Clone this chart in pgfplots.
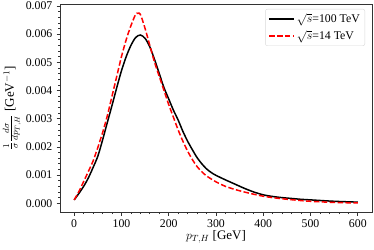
\documentclass[border=0pt]{standalone}
\usepackage{pgfplots}
\pgfplotsset{compat=1.18}
\usepackage{fontspec}
\setmainfont{Liberation Serif}
\begin{document}
\fontsize{11.8bp}{14bp}\selectfont
\begin{tikzpicture}
\begin{axis}[
  scale only axis,
  width=312bp, height=208bp,
  xmin=-30, xmax=630,
  ymin=-0.00031, ymax=0.00707,
  xtick={0,100,200,300,400,500,600},
  ytick={0,0.001,0.002,0.003,0.004,0.005,0.006,0.007},
  minor x tick num=4,
  minor y tick num=4,
  scaled y ticks=false,
  yticklabel style={/pgf/number format/.cd,fixed,fixed zerofill,precision=3},
  /pgf/number format/assume math mode=true,
  tick pos=left,
  tick align=outside,
  major tick length=3.5bp,
  minor tick length=2bp,
  every tick/.style={black!80, line width=0.7bp},
  axis line style={black!80, line width=0.8bp},
  tick label style={font=\fontsize{11.8bp}{14bp}\selectfont},
  label style={font=\fontsize{13bp}{15bp}\selectfont},
  xlabel={$p_{T,H}$ [GeV]},
  ylabel={$\frac{1}{\sigma}\frac{d\sigma}{dp_{T,H}}$ [GeV$^{-1}$]},
  xlabel style={at={(axis description cs:0.5,-0.07)}, anchor=north},
  ylabel style={at={(axis description cs:-0.112,0.5)}, anchor=south},
  legend style={at={(1,1)}, anchor=north east, xshift=-7bp, yshift=-5bp,
    draw=black!15, rounded corners=2pt, fill=white,
    font=\fontsize{11.8bp}{14bp}\selectfont, inner xsep=3bp, inner ysep=2bp,
    row sep=2bp},
  legend cell align=left,
  legend image code/.code={\draw[#1] (0bp,0bp) -- (25bp,0bp);},
]
\addplot[black, line width=1.5bp, smooth, tension=0.5] coordinates {
(0,0.00012) (10,0.00035) (20,0.00060) (30,0.00090) (40,0.00127) (50,0.00167)
(60,0.00224) (70,0.00286) (80,0.00347) (90,0.0041) (100,0.0047) (110,0.0052)
(120,0.0056) (130,0.00588) (140,0.00597) (150,0.00585) (160,0.00555)
(170,0.0051) (180,0.0046) (190,0.0041) (200,0.0037) (210,0.0033) (220,0.00295)
(230,0.00255) (240,0.0022) (250,0.0019) (260,0.00162) (270,0.0014) (280,0.00122)
(290,0.00109) (300,0.00099) (320,0.00083) (340,0.00068) (360,0.00053) (380,0.0004)
(400,0.0003) (420,0.00024) (440,0.0002) (460,0.00017) (480,0.00014)
(500,0.00012) (550,0.00007) (600,0.00004)
};
\addlegendentry{$\sqrt{s}$=100 TeV}
\addplot[red, line width=1.5bp, dash pattern=on 5.5bp off 2.4bp, smooth, tension=0.5] coordinates {
(0,0.00012) (10,0.00042) (20,0.00077) (30,0.00113) (40,0.0015) (50,0.00198)
(60,0.0025) (70,0.0031) (80,0.0038) (90,0.0045) (100,0.0052) (110,0.0058)
(120,0.0063) (130,0.0067) (135,0.00674) (140,0.0067) (150,0.0062)
(160,0.0056) (170,0.0050) (180,0.0045) (190,0.0040) (200,0.0035)
(210,0.00305) (220,0.0026) (230,0.0022) (240,0.00185) (250,0.00155)
(260,0.0013) (270,0.00112) (280,0.00097) (300,0.00076) (320,0.0006)
(340,0.00049) (360,0.0004) (380,0.00032) (400,0.00025) (420,0.0002)
(440,0.00016) (470,0.00011) (500,0.00007) (550,0.00003) (600,0.00001)
};
\addlegendentry{$\sqrt{s}$=14 TeV}
\end{axis}
\pgfresetboundingbox
\path ([shift={(-60bp,-37bp)}]current axis.south west) rectangle ([shift={(2bp,4bp)}]current axis.north east);
\end{tikzpicture}
\end{document}
